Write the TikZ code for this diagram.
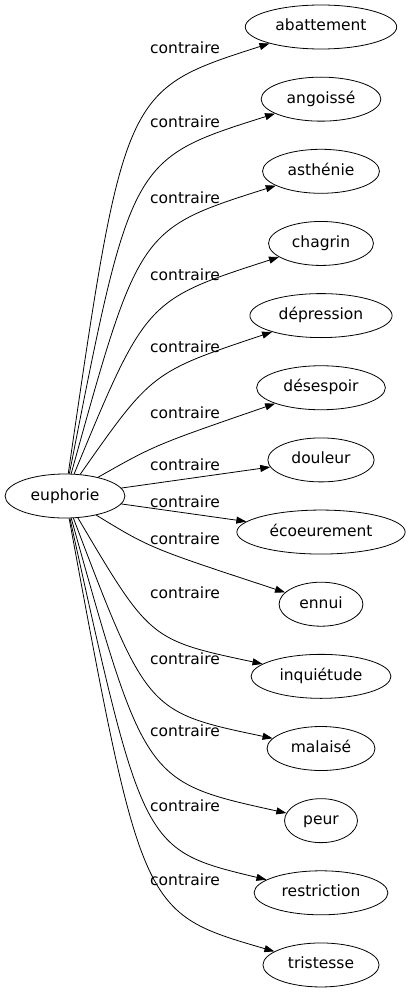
\documentclass[tikz,border=0pt]{standalone}
\usepackage{fontspec}
\setmainfont{DejaVu Sans}
\usetikzlibrary{arrows.meta,shapes.geometric}
\begin{document}
\begin{tikzpicture}[x=1pt,y=-1pt,
  word/.style={ellipse,draw,line width=0.8pt,minimum height=44pt,inner xsep=8pt,inner ysep=1pt,
    text height=11.5pt,text depth=3.5pt,font=\fontsize{15.5}{18}\selectfont},
  rel/.style={inner sep=0pt,font=\fontsize{15.5}{18}\selectfont},
  link/.style={-{Triangle[length=10pt,width=7pt]},line width=0.8pt}]
\useasboundingbox (0,0) rectangle (407,995);
\node[word] (e) at (65,496) {euphorie};
\node[word] (t1) at (321,27) {abattement};
\node[word] (t2) at (321,99.15) {angoissé};
\node[word] (t3) at (321,171.3) {asthénie};
\node[word] (t4) at (321,243.45) {chagrin};
\node[word] (t5) at (321,315.6) {dépression};
\node[word] (t6) at (321,387.75) {désespoir};
\node[word] (t7) at (321,459.9) {douleur};
\node[word] (t8) at (321,532.05) {écoeurement};
\node[word] (t9) at (321,604.2) {ennui};
\node[word] (t10) at (321,676.35) {inquiétude};
\node[word] (t11) at (321,748.5) {malaisé};
\node[word] (t12) at (321,820.65) {peur};
\node[word] (t13) at (321,892.8) {restriction};
\node[word] (t14) at (321,964.95) {tristesse};
\node[rel] (l1) at (185,48) {contraire};
\node[rel] (l2) at (185,122) {contraire};
\node[rel] (l3) at (185,198) {contraire};
\node[rel] (l4) at (185,275) {contraire};
\node[rel] (l5) at (185,347) {contraire};
\node[rel] (l6) at (185,413) {contraire};
\node[rel] (l7) at (185,465) {contraire};
\node[rel] (l8) at (185,502) {contraire};
\node[rel] (l9) at (185,539) {contraire};
\node[rel] (l10) at (185,593) {contraire};
\node[rel] (l11) at (185,659) {contraire};
\node[rel] (l12) at (185,731) {contraire};
\node[rel] (l13) at (185,806) {contraire};
\node[rel] (l14) at (185,880) {contraire};
\draw[link] (e) .. controls (124,90) .. (t1);
\draw[link] (e) .. controls (131,159) .. (t2);
\draw[link] (e) .. controls (139,229) .. (t3);
\draw[link] (e) .. controls (146,300) .. (t4);
\draw[link] (e) .. controls (152,372) .. (t5);
\draw[link] (e) .. controls (155,445) .. (t6);
\draw[link] (e) -- (t7);
\draw[link] (e) -- (t8);
\draw[link] (e) .. controls (150,548) .. (t9);
\draw[link] (e) .. controls (150,640) .. (t10);
\draw[link] (e) .. controls (147,712) .. (t11);
\draw[link] (e) .. controls (145,782) .. (t12);
\draw[link] (e) .. controls (143,850) .. (t13);
\draw[link] (e) .. controls (142,913) .. (t14);
\end{tikzpicture}
\end{document}
